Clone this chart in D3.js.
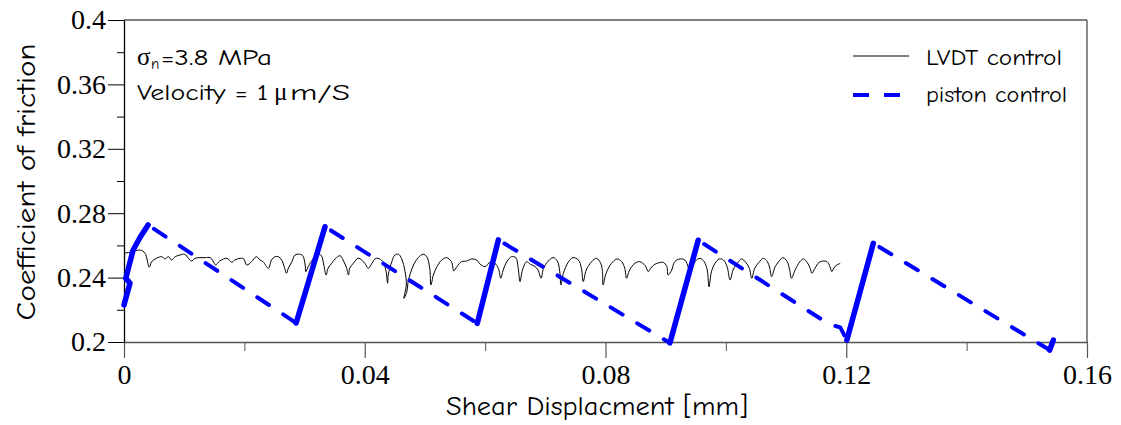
<!DOCTYPE html>
<html>
<head>
<meta charset="utf-8">
<script src="https://cdn.jsdelivr.net/npm/d3@7"></script>
<style>
  html, body { margin: 0; padding: 0; background: #fff; }
  svg { display: block; }
</style>
</head>
<body>
<div id="chart"></div>
<script>
// axis ticks
const xMajorTicks = [0, 0.04, 0.08, 0.12, 0.16]
const xMinorTicks = [0.02, 0.06, 0.1, 0.14]
const yMajorTicks = [0.2, 0.24, 0.28, 0.32, 0.36, 0.4]
const yMinorTicks = [0.22, 0.26, 0.3, 0.34, 0.38]

const seriesNames = ["LVDT control", "piston control"]

// [shear displacement (mm), coefficient of friction]
const lvdtControl = [
  [0.0000,0.2551],[0.0013,0.2560],[0.0027,0.2571],[0.0035,0.2551],[0.0042,0.2464],[0.0046,0.2499],
  [0.0054,0.2520],[0.0063,0.2530],[0.0068,0.2516],[0.0074,0.2530],[0.0079,0.2509],[0.0085,0.2530],
  [0.0093,0.2540],[0.0101,0.2545],[0.0107,0.2520],[0.0112,0.2503],[0.0118,0.2520],[0.0126,0.2524],
  [0.0135,0.2524],[0.0143,0.2524],[0.0148,0.2503],[0.0152,0.2478],[0.0159,0.2503],[0.0171,0.2520],
  [0.0179,0.2495],[0.0184,0.2509],[0.0193,0.2520],[0.0199,0.2516],[0.0204,0.2478],[0.0212,0.2499],
  [0.0220,0.2530],[0.0226,0.2509],[0.0231,0.2499],[0.0240,0.2458],[0.0245,0.2509],[0.0251,0.2530],
  [0.0256,0.2530],[0.0262,0.2509],[0.0267,0.2458],[0.0270,0.2427],[0.0273,0.2458],[0.0279,0.2499],
  [0.0284,0.2540],[0.0292,0.2545],[0.0297,0.2536],[0.0301,0.2478],[0.0302,0.2437],[0.0306,0.2468],
  [0.0315,0.2520],[0.0323,0.2545],[0.0328,0.2536],[0.0332,0.2478],[0.0336,0.2416],[0.0339,0.2458],
  [0.0345,0.2489],[0.0353,0.2524],[0.0359,0.2536],[0.0364,0.2509],[0.0370,0.2458],[0.0373,0.2416],
  [0.0375,0.2458],[0.0381,0.2489],[0.0389,0.2520],[0.0395,0.2509],[0.0400,0.2489],[0.0406,0.2458],
  [0.0412,0.2489],[0.0417,0.2516],[0.0422,0.2520],[0.0430,0.2499],[0.0435,0.2447],[0.0438,0.2365],
  [0.0439,0.2416],[0.0445,0.2499],[0.0450,0.2540],[0.0456,0.2545],[0.0461,0.2520],[0.0467,0.2437],
  [0.0469,0.2354],[0.0465,0.2271],[0.0470,0.2312],[0.0472,0.2375],[0.0481,0.2478],[0.0489,0.2524],
  [0.0497,0.2545],[0.0503,0.2530],[0.0508,0.2458],[0.0510,0.2354],[0.0514,0.2416],[0.0520,0.2468],
  [0.0528,0.2509],[0.0536,0.2524],[0.0544,0.2499],[0.0548,0.2441],[0.0553,0.2468],[0.0561,0.2499],
  [0.0569,0.2503],[0.0578,0.2516],[0.0586,0.2509],[0.0591,0.2486],[0.0600,0.2468],[0.0608,0.2495],
  [0.0616,0.2489],[0.0622,0.2458],[0.0626,0.2396],[0.0630,0.2447],[0.0636,0.2499],[0.0644,0.2530],
  [0.0651,0.2524],[0.0655,0.2458],[0.0658,0.2375],[0.0662,0.2447],[0.0669,0.2499],[0.0675,0.2483],
  [0.0683,0.2468],[0.0688,0.2447],[0.0693,0.2396],[0.0697,0.2458],[0.0705,0.2503],[0.0713,0.2524],
  [0.0720,0.2503],[0.0724,0.2437],[0.0726,0.2354],[0.0730,0.2427],[0.0738,0.2495],[0.0746,0.2524],
  [0.0755,0.2509],[0.0760,0.2458],[0.0763,0.2375],[0.0768,0.2447],[0.0777,0.2499],[0.0785,0.2520],
  [0.0792,0.2489],[0.0795,0.2437],[0.0796,0.2354],[0.0801,0.2427],[0.0810,0.2489],[0.0819,0.2516],
  [0.0827,0.2499],[0.0832,0.2458],[0.0835,0.2396],[0.0840,0.2447],[0.0849,0.2489],[0.0857,0.2499],
  [0.0866,0.2474],[0.0871,0.2437],[0.0875,0.2458],[0.0882,0.2483],[0.0891,0.2494],[0.0896,0.2495],
  [0.0902,0.2468],[0.0904,0.2416],[0.0910,0.2447],[0.0915,0.2499],[0.0924,0.2516],[0.0932,0.2509],
  [0.0938,0.2458],[0.0940,0.2416],[0.0946,0.2478],[0.0951,0.2509],[0.0957,0.2520],[0.0964,0.2499],
  [0.0969,0.2447],[0.0972,0.2343],[0.0976,0.2437],[0.0982,0.2489],[0.0989,0.2516],[0.0996,0.2509],
  [0.1002,0.2468],[0.1007,0.2385],[0.1012,0.2447],[0.1021,0.2499],[0.1026,0.2516],[0.1033,0.2495],
  [0.1039,0.2458],[0.1043,0.2396],[0.1048,0.2458],[0.1057,0.2503],[0.1062,0.2520],[0.1069,0.2499],
  [0.1073,0.2458],[0.1076,0.2406],[0.1082,0.2468],[0.1090,0.2509],[0.1095,0.2524],[0.1102,0.2499],
  [0.1106,0.2447],[0.1109,0.2396],[0.1115,0.2447],[0.1123,0.2499],[0.1129,0.2516],[0.1135,0.2495],
  [0.1140,0.2458],[0.1143,0.2427],[0.1148,0.2458],[0.1155,0.2495],[0.1162,0.2503],[0.1168,0.2499],
  [0.1173,0.2468],[0.1176,0.2437],[0.1181,0.2468],[0.1190,0.2489]
]

const pistonControl = [
  [0.0000,0.2230],[0.0010,0.2366],[0.0003,0.2395],[0.0015,0.2570],[0.0027,0.2652],[0.0040,0.2727],
  [0.0286,0.2118],[0.0334,0.2716],[0.0587,0.2116],[0.0622,0.2634],[0.0907,0.1994],[0.0954,0.2632],
  [0.1165,0.2126],[0.1176,0.2106],[0.1190,0.2091],[0.1201,0.2012],[0.1245,0.2613],[0.1538,0.1950],
  [0.1544,0.2012]
]

const width = 1121
const height = 425
const margin = { top: 20, right: 34, bottom: 83, left: 124 }

const svg = d3.select("#chart").append("svg")
  .attr("width", width)
  .attr("height", height)

const x = d3.scaleLinear().domain([0, 0.16]).range([margin.left, width - margin.right])
const y = d3.scaleLinear().domain([0.2, 0.4]).range([height - margin.bottom, margin.top])

const fmt = (d) => String(+d.toFixed(2))
const tickFont = "'Liberation Serif', 'Times New Roman', serif"
const textFont = "'Comic Sans MS', 'Comic Neue', 'Open Sans', sans-serif"

// frame: top and right
svg.append("line")
  .attr("x1", x(0)).attr("x2", x(0.16)).attr("y1", y(0.4)).attr("y2", y(0.4))
  .attr("stroke", "#000").attr("stroke-width", 1)
svg.append("line")
  .attr("x1", x(0.16)).attr("x2", x(0.16)).attr("y1", y(0.4)).attr("y2", y(0.2))
  .attr("stroke", "#666").attr("stroke-width", 1.5)

// x axis
const xMinor = svg.append("g")
  .attr("transform", `translate(0,${y(0.2)})`)
  .call(d3.axisBottom(x).tickValues(xMinorTicks).tickSize(9).tickFormat(""))
xMinor.select(".domain").remove()
xMinor.selectAll("line").attr("stroke", "#555")

const xAxis = svg.append("g")
  .attr("transform", `translate(0,${y(0.2)})`)
  .call(d3.axisBottom(x).tickValues(xMajorTicks).tickSize(16).tickSizeOuter(0).tickPadding(6).tickFormat(fmt))
xAxis.select(".domain").attr("stroke", "#555").attr("stroke-width", 1.5)
xAxis.selectAll("line").attr("stroke", "#555").attr("stroke-width", 1.2)
xAxis.selectAll("text").attr("font-family", tickFont).attr("font-size", 28).attr("fill", "#000")

// y axis
const yMinor = svg.append("g")
  .attr("transform", `translate(${x(0)},0)`)
  .call(d3.axisLeft(y).tickValues(yMinorTicks).tickSize(7).tickFormat(""))
yMinor.select(".domain").remove()
yMinor.selectAll("line").attr("stroke", "#000")

const yAxis = svg.append("g")
  .attr("transform", `translate(${x(0)},0)`)
  .call(d3.axisLeft(y).tickValues(yMajorTicks).tickSize(16).tickSizeOuter(0).tickPadding(2).tickFormat(fmt))
yAxis.select(".domain").attr("stroke", "#000").attr("stroke-width", 1.3)
yAxis.selectAll("line").attr("stroke", "#000")
yAxis.selectAll("text").attr("font-family", tickFont).attr("font-size", 28).attr("fill", "#000")

// axis titles
svg.append("text")
  .attr("transform", `translate(35,${(y(0.4) + y(0.2)) / 2 + 1}) rotate(-90)`)
  .attr("text-anchor", "middle")
  .attr("font-family", textFont)
  .attr("font-size", 26)
  .attr("textLength", 277)
  .attr("lengthAdjust", "spacingAndGlyphs")
  .text("Coefficient of friction")

svg.append("text")
  .attr("x", 597)
  .attr("y", 415)
  .attr("text-anchor", "middle")
  .attr("font-family", textFont)
  .attr("font-size", 26)
  .attr("textLength", 302)
  .attr("lengthAdjust", "spacingAndGlyphs")
  .text("Shear Displacment [mm]")

// LVDT control line
const line = d3.line().x((d) => x(d[0])).y((d) => y(d[1]))

svg.append("path")
  .datum(lvdtControl)
  .attr("fill", "none")
  .attr("stroke", "#000")
  .attr("stroke-width", 1)
  .attr("stroke-linejoin", "round")
  .attr("d", line.curve(d3.curveCatmullRom.alpha(0.5)))

// piston control: loading ramps are dense (solid), relaxation parts dashed
const runs = []
let cur = [pistonControl[0]]
let dir = null
for (let i = 1; i < pistonControl.length; i++) {
  const d = pistonControl[i][1] > pistonControl[i - 1][1] ? "up" : "down"
  if (dir && d !== dir) {
    runs.push({ dir, pts: cur })
    cur = [pistonControl[i - 1]]
  }
  dir = d
  cur.push(pistonControl[i])
}
runs.push({ dir, pts: cur })

const straight = d3.line().x((d) => x(d[0])).y((d) => y(d[1]))

svg.append("g")
  .selectAll("path")
  .data(runs)
  .join("path")
  .attr("fill", "none")
  .attr("stroke", "#0000ff")
  .attr("stroke-linecap", "round")
  .attr("stroke-linejoin", "round")
  .attr("stroke-width", (d) => (d.dir === "up" ? 5.5 : 4))
  .attr("stroke-dasharray", (d) => (d.dir === "up" ? null : "14,17"))
  .attr("stroke-dashoffset", (d) => (d.dir === "up" ? null : 24))
  .attr("d", (d) => straight(d.pts))

// annotation
const note = svg.append("g").attr("fill", "#000")
note.append("text").attr("x", 137).attr("y", 65)
  .attr("font-family", tickFont).attr("font-size", 25).text("σ")
note.append("text").attr("x", 151).attr("y", 69)
  .attr("font-family", textFont).attr("font-size", 15).text("n")
note.append("text").attr("x", 161).attr("y", 65)
  .attr("font-family", textFont).attr("font-size", 23)
  .attr("textLength", 111).attr("lengthAdjust", "spacingAndGlyphs").text("=3.8 MPa")
note.append("text").attr("x", 137).attr("y", 100)
  .attr("font-family", textFont).attr("font-size", 23)
  .attr("textLength", 131).attr("lengthAdjust", "spacingAndGlyphs").text("Velocity = 1")
note.append("text").attr("x", 274).attr("y", 100)
  .attr("font-family", tickFont).attr("font-size", 25).text("μ")
note.append("text").attr("x", 290).attr("y", 100)
  .attr("font-family", textFont).attr("font-size", 23)
  .attr("textLength", 60).attr("lengthAdjust", "spacingAndGlyphs").text("m/S")

// legend
const legend = svg.append("g")
const legendRows = [
  { name: seriesNames[0], y: 56, ty: 65, len: 136, stroke: "#000", w: 1, dash: null, x1: 853, x2: 909 },
  { name: seriesNames[1], y: 95, ty: 102, len: 141, stroke: "#0000ff", w: 4, dash: "16,15", x1: 853, x2: 903 }
]
legendRows.forEach((r) => {
  legend.append("line")
    .attr("x1", r.x1).attr("x2", r.x2).attr("y1", r.y).attr("y2", r.y)
    .attr("stroke", r.stroke).attr("stroke-width", r.w)
    .attr("stroke-dasharray", r.dash)
  legend.append("text")
    .attr("x", 926).attr("y", r.ty)
    .attr("font-family", textFont).attr("font-size", 22)
    .attr("textLength", r.len).attr("lengthAdjust", "spacingAndGlyphs")
    .text(r.name)
})
</script>
</body>
</html>
